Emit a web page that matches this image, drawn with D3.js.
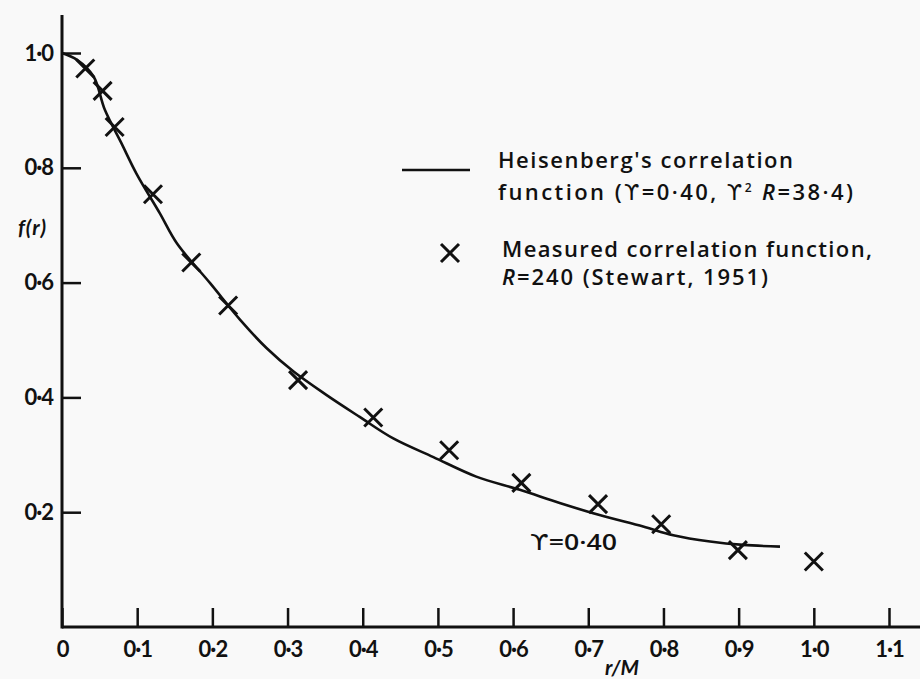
<!DOCTYPE html>
<html>
<head>
<meta charset="utf-8">
<script src="https://cdn.jsdelivr.net/npm/d3@7"></script>
<style>
  html, body { margin: 0; padding: 0; background: #f9f9f9; }
  svg { display: block; }
  text { font-family: Lato, "Open Sans", "DejaVu Sans", sans-serif; fill: #111; }
  .leg { font-family: "Open Sans", Lato, sans-serif; font-weight: 600; }
  .gr { font-family: "DejaVu Sans", sans-serif; font-weight: 400; }
</style>
</head>
<body>
<svg id="chart" width="920" height="679"></svg>
<script>
// ---- data ----
const xTicks = [0, 0.1, 0.2, 0.3, 0.4, 0.5, 0.6, 0.7, 0.8, 0.9, 1.0, 1.1];
const xTickLabels = ["0", "0·1", "0·2", "0·3", "0·4", "0·5", "0·6", "0·7", "0·8", "0·9", "1·0", "1·1"];
const yTicks = [0.2, 0.4, 0.6, 0.8, 1.0];
const yTickLabels = ["0·2", "0·4", "0·6", "0·8", "1·0"];

// Measured correlation function, R = 240 (Stewart, 1951)
const measuredR = [0.031, 0.054, 0.070, 0.121, 0.172, 0.221, 0.314, 0.414, 0.515, 0.611, 0.713, 0.797, 0.899, 1.000];
const measuredF = [0.973, 0.934, 0.871, 0.754, 0.635, 0.560, 0.430, 0.365, 0.308, 0.251, 0.214, 0.179, 0.134, 0.114];

// Heisenberg's correlation function
const curveR = [0, 0.02, 0.042, 0.057, 0.079, 0.099, 0.130, 0.153, 0.197, 0.237, 0.272, 0.308, 0.352, 0.396,
                0.440, 0.494, 0.551, 0.609, 0.662, 0.715, 0.773, 0.813, 0.862, 0.906, 0.955];
const curveF = [1.0, 0.988, 0.959, 0.901, 0.843, 0.790, 0.721, 0.668, 0.599, 0.535, 0.486, 0.445, 0.404, 0.366,
                0.329, 0.296, 0.262, 0.239, 0.216, 0.195, 0.175, 0.160, 0.149, 0.143, 0.140];

// ---- drawing ----
const svg = d3.select("#chart");
const x = d3.scaleLinear().domain([0, 1.1]).range([62, 889]);
const y = d3.scaleLinear().domain([0, 1]).range([627, 53]);
const ink = "#111";

// axis lines
svg.append("line").attr("x1", x(0)).attr("x2", 920).attr("y1", y(0)).attr("y2", y(0))
  .attr("stroke", ink).attr("stroke-width", 3);
svg.append("line").attr("x1", x(0)).attr("x2", x(0)).attr("y1", 15).attr("y2", y(0) + 1.5)
  .attr("stroke", ink).attr("stroke-width", 3);

// x axis
const gx = svg.append("g").attr("transform", `translate(0,${y(0)})`)
  .call(d3.axisBottom(x).tickValues(xTicks).tickFormat((d, i) => xTickLabels[i])
    .tickSizeInner(-19).tickSizeOuter(0).tickPadding(14));
gx.select(".domain").remove();
gx.selectAll(".tick line").attr("stroke", ink).attr("stroke-width", 2.5);
gx.selectAll(".tick text").attr("font-size", 22).attr("font-weight", 700)
  .attr("font-family", "Lato, sans-serif").attr("fill", ink).attr("letter-spacing", -1);

// y axis
const gy = svg.append("g").attr("transform", `translate(${x(0)},0)`)
  .call(d3.axisLeft(y).tickValues(yTicks).tickFormat((d, i) => yTickLabels[i])
    .tickSizeInner(-19).tickSizeOuter(0).tickPadding(9));
gy.select(".domain").remove();
gy.selectAll(".tick line").attr("stroke", ink).attr("stroke-width", 2.5);
gy.selectAll(".tick text").attr("font-size", 22).attr("font-weight", 700)
  .attr("font-family", "Lato, sans-serif").attr("fill", ink).attr("letter-spacing", -1);

// axis titles
svg.append("text").attr("x", 47).attr("y", 235).attr("text-anchor", "end")
  .attr("font-size", 21).attr("font-style", "italic").attr("font-weight", 700)
  .attr("letter-spacing", 1).text("f(r)");
svg.append("text").attr("x", 622).attr("y", 675).attr("text-anchor", "middle")
  .attr("font-size", 21).attr("font-style", "italic").attr("font-weight", 700).text("r/M");

// curve
const curvePts = curveR.map((r, i) => [r, curveF[i]]);
const line = d3.line().x(d => x(d[0])).y(d => y(d[1])).curve(d3.curveCatmullRom.alpha(0.5));
svg.append("path").datum(curvePts).attr("d", line)
  .attr("fill", "none").attr("stroke", ink).attr("stroke-width", 2.6);

// measured crosses
const s = 9;
const crossPath = (cx, cy, h) => `M${cx - h},${cy - h}L${cx + h},${cy + h}M${cx - h},${cy + h}L${cx + h},${cy - h}`;
svg.append("g").selectAll("path").data(measuredR.map((r, i) => [r, measuredF[i]])).join("path")
  .attr("d", d => crossPath(x(d[0]), y(d[1]), s))
  .attr("stroke", ink).attr("stroke-width", 3).attr("fill", "none");

// curve annotation
const ta = svg.append("text").attr("class", "leg").attr("x", 530).attr("y", 550).attr("font-size", 21)
  .attr("textLength", 87).attr("lengthAdjust", "spacingAndGlyphs");
ta.append("tspan").attr("class", "gr").text("ϒ");
ta.append("tspan").text("=0·40");

// legend
svg.append("line").attr("x1", 402).attr("x2", 470).attr("y1", 170).attr("y2", 170)
  .attr("stroke", ink).attr("stroke-width", 2.6);
svg.append("text").attr("class", "leg").attr("x", 498).attr("y", 168).attr("font-size", 22)
  .attr("textLength", 295).attr("lengthAdjust", "spacing").text("Heisenberg's correlation");
const t2 = svg.append("text").attr("class", "leg").attr("x", 498).attr("y", 200).attr("font-size", 22)
  .attr("textLength", 355).attr("lengthAdjust", "spacing");
t2.append("tspan").text("function (");
t2.append("tspan").attr("class", "gr").text("ϒ");
t2.append("tspan").text("=0·40, ");
t2.append("tspan").attr("class", "gr").text("ϒ");
t2.append("tspan").attr("font-size", 12).attr("dy", -8).text("2");
t2.append("tspan").attr("dy", 8).text(" ");
t2.append("tspan").attr("font-style", "italic").text("R");
t2.append("tspan").text("=38·4)");

svg.append("path").attr("d", crossPath(450, 253, 9))
  .attr("stroke", ink).attr("stroke-width", 3).attr("fill", "none");
svg.append("text").attr("class", "leg").attr("x", 502).attr("y", 257).attr("font-size", 22)
  .attr("textLength", 370).attr("lengthAdjust", "spacing").text("Measured correlation function,");
const t4 = svg.append("text").attr("class", "leg").attr("x", 502).attr("y", 285).attr("font-size", 22)
  .attr("textLength", 266).attr("lengthAdjust", "spacing");
t4.append("tspan").attr("font-style", "italic").text("R");
t4.append("tspan").text("=240 (Stewart, 1951)");
</script>
</body>
</html>
